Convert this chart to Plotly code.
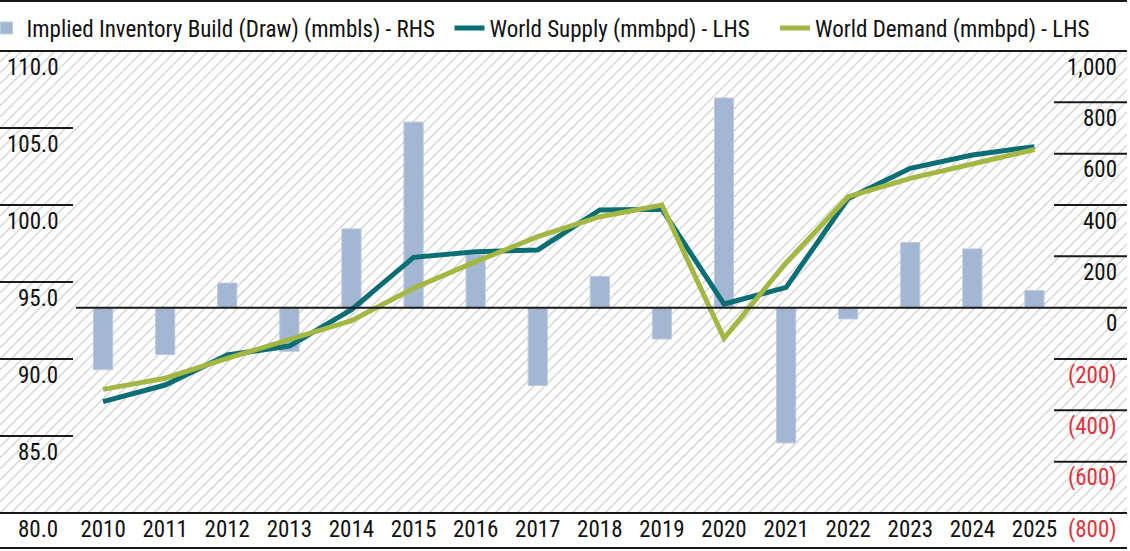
import plotly.graph_objects as go

years = [str(y) for y in range(2010, 2026)]
inventory_build = [-242, -183, 96, -170, 307, 723, 206, -303, 122, -122, 817, -527, -44, 254, 229, 67]
world_supply = [87.23, 88.31, 90.26, 90.84, 93.2, 96.6, 96.97, 97.08, 99.68, 99.72,
                93.57, 94.65, 100.43, 102.38, 103.25, 103.79]
world_demand = [88.03, 88.75, 90.04, 91.28, 92.49, 94.59, 96.32, 97.94, 99.24, 100.0,
                91.34, 96.25, 100.54, 101.73, 102.7, 103.6]

left_ticks = [110, 105, 100, 95, 90, 85, 80]
left_labels = ["110.0", "105.0", "100.0", "95.0", "90.0", "85.0", "80.0"]
right_ticks = [1000, 800, 600, 400, 200, 0, -200, -400, -600, -800]
right_labels = ["1,000", "800", "600", "400", "200", "0", "(200)", "(400)", "(600)", "(800)"]

FONT = "Roboto Condensed, Liberation Sans Narrow, DejaVu Sans Condensed, sans-serif"
W, H = 1130, 551
L, R, T, B = 0, 3, 51, 38
PW, PH = W - L - R, H - T - B

BAR_C = "#A4B7D2"
SUP_C = "#0B6E74"
DEM_C = "#A3B743"
RED = "#E0323A"
INK = "#1a1a1a"

fig = go.Figure()
fig.add_trace(go.Bar(
    x=years, y=inventory_build, name="Implied Inventory Build (Draw) (mmbls) - RHS",
    marker=dict(color=BAR_C, line=dict(color="#BCCBE0", width=1)), width=0.31,
    yaxis="y", legend="legend",
))
fig.add_trace(go.Scatter(
    x=years, y=world_supply, name="World Supply (mmbpd) - LHS", mode="lines",
    line=dict(color=SUP_C, width=5), yaxis="y2", legend="legend2",
))
fig.add_trace(go.Scatter(
    x=years, y=world_demand, name="World Demand (mmbpd) - LHS", mode="lines",
    line=dict(color=DEM_C, width=5), yaxis="y2", legend="legend3",
))

def px2paper(px, py):
    return (px - L) / PW, 1 - (py - T) / PH

# hatch background
segs = []
step = 11
x0p, x1p, y0p, y1p = 0, PW, T, T + PH
c = x0p + y0p
while c <= x1p + y1p:
    pts = []
    for py in (y0p, y1p):
        px = c - py
        if x0p <= px <= x1p:
            pts.append((px, py))
    for px in (x0p, x1p):
        py = c - px
        if y0p <= py <= y1p:
            pts.append((px, py))
    if len(pts) >= 2:
        pts = sorted(set(pts))
        a, b = pts[0], pts[-1]
        ax, ay = px2paper(*a)
        bx, by = px2paper(*b)
        segs.append(f"M{ax:.5f},{ay:.5f}L{bx:.5f},{by:.5f}")
    c += step
shapes = [dict(type="path", xref="paper", yref="paper", path="".join(segs),
               line=dict(color="#DADADA", width=1.6), layer="below")]

for py in (1, 51, 513, 548):
    _, yp = px2paper(0, py)
    shapes.append(dict(type="line", xref="paper", yref="paper", x0=0, x1=1, y0=yp, y1=yp,
                       line=dict(color=INK, width=2)))
for v in left_ticks[1:-1]:
    shapes.append(dict(type="line", xref="paper", yref="y2", x0=0, x1=73 / PW, y0=v, y1=v,
                       line=dict(color=INK, width=2)))
for v in right_ticks[1:-1]:
    if v == 0:
        continue
    shapes.append(dict(type="line", xref="paper", yref="y", x0=1054 / PW, x1=1, y0=v, y1=v,
                       line=dict(color=INK, width=2)))
shapes.append(dict(type="line", xref="paper", yref="y", x0=76 / PW, x1=1, y0=0, y1=0,
                   line=dict(color=INK, width=2)))

annotations = []
for v, t in zip(left_ticks, left_labels):
    annotations.append(dict(xref="paper", yref="y2", x=60 / PW, y=v, text=t, showarrow=False,
                            xanchor="right", yanchor="middle", yshift=-16,
                            font=dict(family=FONT, size=23, color="#111111")))
for v, t in zip(right_ticks, right_labels):
    annotations.append(dict(xref="paper", yref="y", x=1119 / PW, y=v, text=t, showarrow=False,
                            xanchor="right", yanchor="middle", yshift=-16,
                            font=dict(family=FONT, size=23, color=RED if v < 0 else "#111111")))

leg_y = 1 + (51 - 28) / PH
def leg(xpx):
    return dict(orientation="h", x=xpx / PW, xanchor="left", y=leg_y, yanchor="middle",
                font=dict(family=FONT, size=23, color="#111111"),
                itemwidth=30, bgcolor="rgba(0,0,0,0)")

fig.update_layout(
    width=W, height=H,
    margin=dict(l=L, r=R, t=T, b=B, pad=0, autoexpand=False),
    paper_bgcolor="white", plot_bgcolor="rgba(0,0,0,0)",
    font=dict(family=FONT, size=23, color="#111111"),
    showlegend=True,
    legend=leg(-13.5),
    legend2=leg(449.5),
    legend3=leg(775),
    xaxis=dict(type="category", range=[-1.66, 16.49], showgrid=False, zeroline=False,
               showline=False, ticks="", tickfont=dict(family=FONT, size=23, color="#111111")),
    yaxis=dict(range=[-800, 1000], side="right", showgrid=False, zeroline=False,
               showticklabels=False, showline=False, ticks=""),
    yaxis2=dict(range=[80, 110], side="left", overlaying="y", showgrid=False, zeroline=False,
                showticklabels=False, showline=False, ticks=""),
    shapes=shapes,
    annotations=annotations,
)

fig.write_html("out.html", config={"displayModeBar": False},
               post_script="document.body.style.margin='0px';")
